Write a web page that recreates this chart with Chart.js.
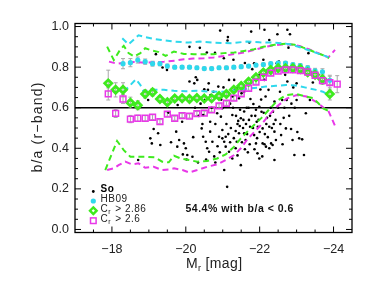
<!DOCTYPE html>
<html>
<head>
<meta charset="utf-8">
<script src="https://cdn.jsdelivr.net/npm/chart.js@4.4.0/dist/chart.umd.min.js"></script>
<style>
  html, body { margin: 0; padding: 0; background: #fff; }
</style>
</head>
<body>
<canvas id="chart" width="374" height="281"></canvas>
<script>
// So galaxies: absolute magnitude and axis ratio
const soMag = [-18.71,-18.98,-19.04,-19.08,-19.13,-19.19,-19.25,-19.31,-19.37,-19.49,-19.53,-19.60,-19.74,-19.77,-19.78,-19.82,-19.90,-19.92,-19.95,-20.00,
  -20.02,-20.04,-20.10,-20.10,-20.18,-20.20,-20.23,-20.27,-20.31,-20.33,-20.38,-20.40,-20.43,-20.45,-20.47,-20.47,-20.50,-20.52,-20.54,-20.55,
  -20.57,-20.58,-20.60,-20.63,-20.66,-20.66,-20.67,-20.70,-20.72,-20.75,-20.77,-20.79,-20.80,-20.85,-20.88,-20.90,-20.93,-20.95,-20.99,-20.99,
  -20.99,-21.03,-21.04,-21.04,-21.08,-21.08,-21.12,-21.13,-21.14,-21.17,-21.17,-21.20,-21.22,-21.26,-21.26,-21.26,-21.29,-21.30,-21.31,-21.33,
  -21.35,-21.35,-21.38,-21.38,-21.40,-21.42,-21.44,-21.44,-21.46,-21.49,-21.49,-21.51,-21.55,-21.58,-21.58,-21.58,-21.60,-21.62,-21.65,-21.68,
  -21.71,-21.72,-21.74,-21.75,-21.77,-21.80,-21.83,-21.85,-21.85,-21.88,-21.90,-21.92,-21.94,-21.95,-21.99,-21.99,-21.99,-22.02,-22.05,-22.08,
  -22.08,-22.10,-22.13,-22.13,-22.13,-22.16,-22.17,-22.20,-22.24,-22.26,-22.26,-22.26,-22.30,-22.31,-22.35,-22.38,-22.40,-22.40,-22.40,-22.44,
  -22.46,-22.48,-22.52,-22.55,-22.58,-22.61,-22.65,-22.69,-22.71,-22.73,-22.75,-22.75,-22.78,-22.82,-22.85,-22.89,-22.91,-22.94,-22.95,-23.00,
  -23.00,-23.02,-23.07,-23.15,-23.20,-23.25,-23.32,-23.36,-23.44,-21.10,-21.15,-21.20,-21.28,-21.36,-21.40,-21.47,-21.52,-21.56,-21.60,-21.63,
  -21.66,-21.70,-21.73,-21.78,-21.82,-21.86,-21.90,-21.93,-21.97,-22.00,-22.04,-22.07,-22.11,-22.14,-22.18,-22.22,-22.28,-22.33,-22.36,-22.43,
  -22.50,-22.56,-22.62,-22.67,-22.80,-22.86,-20.80,-20.86,-20.92,-20.96,-21.02,-20.62,-20.35,-20.25];
const soBA = [0.342,0.638,0.449,0.424,0.495,0.864,0.474,0.416,0.798,0.786,0.576,0.430,0.482,0.408,0.613,0.441,0.531,0.370,0.424,0.400,
  0.345,0.367,0.900,0.729,0.358,0.455,0.720,0.750,0.737,0.330,0.895,0.620,0.498,0.520,0.457,0.564,0.691,0.638,0.432,0.345,
  0.872,0.400,0.688,0.383,0.531,0.482,0.663,0.600,0.432,0.679,0.360,0.870,0.520,0.573,0.704,0.457,0.980,0.556,0.597,0.490,
  0.449,0.844,0.432,0.293,0.457,0.408,0.210,0.931,0.948,0.737,0.383,0.620,0.500,0.655,0.564,0.350,0.836,0.450,0.737,0.688,
  0.485,0.400,0.696,0.432,0.520,0.535,0.474,0.647,0.510,0.548,0.317,0.671,0.500,0.581,0.474,0.679,0.820,0.441,0.600,0.380,
  0.540,0.921,0.506,0.643,0.975,0.790,0.618,0.819,0.465,0.560,0.424,0.531,0.375,0.506,0.762,0.605,0.350,0.690,0.580,0.424,
  0.498,0.836,0.984,0.737,0.420,0.655,0.408,0.550,0.688,0.934,0.506,0.400,0.600,0.424,0.416,0.520,0.630,0.482,0.342,0.441,
  0.819,0.962,0.827,0.679,0.465,0.638,0.550,0.762,0.498,0.638,0.729,0.984,0.896,0.962,0.495,0.441,0.700,0.367,0.600,0.720,
  0.638,0.480,0.449,0.444,0.367,0.573,0.869,0.638,0.724,0.520,0.470,0.430,0.600,0.560,0.365,0.590,0.430,0.540,0.395,0.520,
  0.470,0.600,0.420,0.560,0.500,0.395,0.590,0.450,0.540,0.480,0.640,0.360,0.575,0.470,0.520,0.455,0.560,0.500,0.580,0.540,
  0.600,0.520,0.420,0.600,0.560,0.620,0.330,0.410,0.380,0.640,0.700,0.720,0.560,0.600];

// binned medians
const binMag = [-17.9,-18.1,-18.3,-18.5,-18.7,-18.9,-19.1,-19.3,-19.5,-19.7,-19.9,-20.1,-20.3,-20.5,-20.7,-20.9,
  -21.1,-21.3,-21.5,-21.7,-21.9,-22.1,-22.3,-22.5,-22.7,-22.9,-23.1,-23.3,-23.5,-23.7,-23.9,-24.1];
const cr286 = [0.720,0.688,0.688,0.625,0.612,0.668,0.676,0.643,0.627,0.645,0.647,0.643,0.648,0.645,0.646,0.658,
  0.668,0.688,0.707,0.728,0.750,0.773,0.786,0.795,0.795,0.795,0.791,0.775,0.762,0.740,0.668,null];
const cr286Err = [0.065,0.035,0.035,0.027,0.022,0.020,0.018,0.015,0.013,0.012,0.012,0.011,0.011,0.011,0.011,0.011,
  0.011,0.011,0.011,0.011,0.011,0.011,0.011,0.011,0.011,0.011,0.012,0.013,0.015,0.020,0.030,0];
const cr26 = [0.668,0.572,0.643,0.544,0.548,0.548,0.553,0.531,0.568,0.548,0.561,0.559,0.571,0.573,0.589,0.609,
  0.622,0.647,0.668,0.696,0.726,0.750,0.770,0.781,0.786,0.786,0.783,0.776,0.760,0.733,0.724,0.716];
const cr26Err = [0.030,0.020,0.022,0.018,0.015,0.013,0.012,0.010,0.010,0.010,0.010,0.010,0.010,0.010,0.010,0.010,
  0.010,0.010,0.010,0.010,0.010,0.010,0.010,0.010,0.010,0.010,0.010,0.011,0.012,0.018,0.036,0.042];

const hbMag = [-18.3,-18.5,-18.7,-18.9,-19.1,-19.3,-19.5,-19.7,-19.9,-20.1,-20.3,-20.5,-20.7,-20.9,-21.1,
  -21.3,-21.5,-21.7,-21.9,-22.1,-22.3,-22.5,-22.7,-22.9,-23.1,-23.3,-23.5,-23.7,-23.9];
const hb09 = [0.817,0.822,0.835,0.827,0.817,0.817,0.805,0.800,0.800,0.800,0.797,0.793,0.793,0.797,0.797,
  0.800,0.802,0.805,0.810,0.813,0.817,0.820,0.820,0.812,0.808,0.797,0.782,0.777,0.735];
const hb09Err = [0.025,0.020,0.015,0.013,0.012,0.010,0.010,0.008,0.008,0.008,0.008,0.008,0.008,0.008,0.008,
  0.008,0.008,0.008,0.008,0.008,0.008,0.008,0.008,0.008,0.009,0.010,0.012,0.015,0.020];

// percentile envelopes (dashed)
const hbUpMag = [-18.28,-18.45,-18.72,-18.9,-19.17,-19.45,-19.66,-20.07,-20.38,-20.8,-21.24,-21.65,-22.0,-22.37,-22.6,-22.82,-23.09,-23.36,-23.63,-23.86];
const hbUp = [0.942,0.912,0.957,0.948,0.938,0.931,0.926,0.921,0.926,0.920,0.918,0.926,0.922,0.921,0.918,0.913,0.898,0.881,0.864,0.849];
const hbLoMag = [-18.32,-18.5,-18.65,-18.77,-18.86,-19.1,-19.41,-19.68,-20.0,-20.31,-20.6,-20.9,-21.12,-21.39,-21.65,-21.94,-22.17,-22.44,-22.71,-22.98,-23.25,-23.53,-23.71,-23.88];
const hbLo = [0.679,0.712,0.740,0.712,0.679,0.688,0.688,0.683,0.681,0.683,0.680,0.679,0.679,0.688,0.693,0.699,0.704,0.708,0.712,0.709,0.699,0.688,0.679,0.662];

const c286UpMag = [-17.87,-18.05,-18.22,-18.32,-18.45,-18.6,-18.77,-18.9,-19.1,-19.27,-19.45,-19.68,-19.95,-20.22,-20.49,-20.76,-21.03,-21.31,-21.58,-21.85,-22.1,-22.4,-22.7,-22.95,-23.2,-23.45,-23.7,-23.88];
const c286Up = [0.901,0.835,0.885,0.905,0.869,0.852,0.869,0.893,0.881,0.874,0.855,0.877,0.865,0.864,0.864,0.864,0.869,0.872,0.880,0.888,0.900,0.910,0.915,0.910,0.895,0.877,0.860,0.845];
const c286LoMag = [-17.82,-18.14,-18.32,-18.5,-18.73,-18.95,-19.17,-19.36,-19.54,-19.68,-19.86,-20.09,-20.31,-20.58,-20.85,-21.08,-21.31,-21.49,-21.71,-21.85,-22.05,-22.26,-22.48,-22.71,-22.98,-23.25,-23.45,-23.59,-23.72,-23.9];
const c286Lo = [0.293,0.436,0.391,0.358,0.358,0.358,0.355,0.334,0.331,0.363,0.350,0.342,0.334,0.337,0.350,0.370,0.408,0.449,0.490,0.515,0.550,0.592,0.635,0.662,0.668,0.655,0.647,0.622,0.597,0.580];

const c26UpMag = [-17.92,-18.14,-18.36,-18.6,-18.9,-19.2,-19.41,-19.7,-19.95,-20.2,-20.49,-20.76,-21.03,-21.31,-21.58,-21.85,-22.1,-22.35,-22.6,-22.85,-23.1,-23.35,-23.6,-23.86,-24.04];
const c26Up = [0.827,0.817,0.822,0.825,0.822,0.825,0.827,0.832,0.839,0.842,0.844,0.848,0.855,0.865,0.872,0.885,0.897,0.907,0.912,0.912,0.903,0.887,0.868,0.848,0.885];
const c26LoMag = [-17.87,-18.05,-18.18,-18.36,-18.54,-18.72,-18.9,-19.13,-19.36,-19.54,-19.68,-19.91,-20.09,-20.31,-20.58,-20.85,-21.12,-21.31,-21.49,-21.67,-21.8,-22.01,-22.19,-22.46,-22.73,-23.0,-23.27,-23.54,-23.75,-23.86,-23.95,-24.04];
const c26Lo = [0.293,0.301,0.317,0.334,0.321,0.326,0.304,0.309,0.293,0.296,0.301,0.293,0.281,0.293,0.309,0.321,0.346,0.367,0.400,0.445,0.470,0.510,0.550,0.605,0.645,0.662,0.655,0.628,0.597,0.585,0.548,0.510];

const cutLevel = 0.6;
const note = '54.4% with b/a < 0.6';

const cyan = '#2ED8EC', green = '#3EEA1E', magenta = '#E838E8';
const FONT = '"Liberation Sans", Arial, sans-serif';

function pts(xs, ys) {
  return xs.map((v, i) => ({ x: v, y: ys[i] })).filter(p => p.y !== null);
}

function dashed(xs, ys, color) {
  return {
    data: pts(xs, ys), showLine: true, borderColor: color, borderWidth: 2,
    borderDash: [6, 4], pointRadius: 0, fill: false, order: 5
  };
}

// error bars, the 0.6 line, frame, ticks and all free text
const extras = {
  id: 'extras',
  beforeDatasetsDraw(chart) {
    const { ctx, chartArea: a, scales: { x, y } } = chart;
    ctx.save();
    const py = y.getPixelForValue(cutLevel);
    ctx.strokeStyle = '#000';
    ctx.lineWidth = 1.5;
    ctx.beginPath(); ctx.moveTo(a.left, py); ctx.lineTo(a.right, py); ctx.stroke();

    ctx.strokeStyle = '#a8a8a8';
    ctx.lineWidth = 1;
    const bars = (xs, ys, es) => {
      xs.forEach((v, i) => {
        if (ys[i] === null || !es[i]) return;
        const px = x.getPixelForValue(v);
        const t = y.getPixelForValue(ys[i] + es[i]);
        const b = y.getPixelForValue(ys[i] - es[i]);
        ctx.beginPath();
        ctx.moveTo(px, t); ctx.lineTo(px, b);
        ctx.moveTo(px - 2, t); ctx.lineTo(px + 2, t);
        ctx.moveTo(px - 2, b); ctx.lineTo(px + 2, b);
        ctx.stroke();
      });
    };
    bars(hbMag, hb09, hb09Err);
    bars(binMag, cr286, cr286Err);
    bars(binMag, cr26, cr26Err);
    ctx.restore();
  },
  afterDraw(chart) {
    const { ctx, chartArea: a, scales: { x, y } } = chart;
    ctx.save();
    // frame
    ctx.strokeStyle = '#000';
    ctx.lineWidth = 1.3;
    ctx.strokeRect(a.left, a.top, a.right - a.left, a.bottom - a.top);
    // inward ticks, all four sides
    ctx.lineWidth = 1;
    ctx.beginPath();
    for (let k = 1; k < 15; k++) {
      const v = -24.5 + k * 0.5;
      const px = x.getPixelForValue(v);
      const len = (k % 4 === 1) ? 6 : 3;
      ctx.moveTo(px, a.bottom); ctx.lineTo(px, a.bottom - len);
      ctx.moveTo(px, a.top); ctx.lineTo(px, a.top + len);
    }
    for (let k = 0; k <= 20; k++) {
      const py = y.getPixelForValue(k * 0.05);
      const len = (k % 4 === 0) ? 6 : 3;
      ctx.moveTo(a.left, py); ctx.lineTo(a.left + len, py);
      ctx.moveTo(a.right, py); ctx.lineTo(a.right - len, py);
    }
    ctx.stroke();

    ctx.fillStyle = '#222';
    ctx.textBaseline = 'middle';
    ctx.letterSpacing = '1.2px';
    // y title
    ctx.save();
    ctx.translate(38, 127);
    ctx.rotate(-Math.PI / 2);
    ctx.textAlign = 'center';
    ctx.font = '14px ' + FONT;
    ctx.fillText('b/a (r\u2212band)', 0, 0);
    ctx.restore();
    // x title with subscript
    ctx.textAlign = 'left';
    ctx.letterSpacing = '0.4px';
    let tx = 186;
    ctx.font = '14px ' + FONT;
    ctx.fillText('M', tx, 264.5); tx += ctx.measureText('M').width;
    ctx.font = '9px ' + FONT;
    ctx.fillText('r', tx, 268.5); tx += ctx.measureText('r').width + 2;
    ctx.font = '14px ' + FONT;
    ctx.fillText('[mag]', tx + 2, 264.5);

    // note
    ctx.fillStyle = '#111';
    ctx.font = 'bold 10.5px ' + FONT;
    ctx.letterSpacing = '0.5px';
    ctx.fillText(note, 185.5, 209);

    // legend
    const sx = 93.3, lx = 100.5;
    ctx.fillStyle = '#000';
    ctx.beginPath(); ctx.arc(sx, 191.5, 1.4, 0, Math.PI * 2); ctx.fill();
    ctx.font = 'bold 10px ' + FONT;
    ctx.fillText('So', lx, 189.5);
    ctx.fillStyle = cyan;
    ctx.beginPath(); ctx.arc(sx, 201, 2.6, 0, Math.PI * 2); ctx.fill();
    ctx.fillStyle = '#222';
    ctx.font = '10px ' + FONT;
    ctx.fillText('HB09', lx, 199.5);
    // green diamond (thick open)
    ctx.strokeStyle = green; ctx.lineWidth = 2.4;
    ctx.beginPath();
    ctx.moveTo(sx, 207.4); ctx.lineTo(sx + 3.3, 210.7); ctx.lineTo(sx, 214); ctx.lineTo(sx - 3.3, 210.7); ctx.closePath();
    ctx.stroke();
    // magenta square
    ctx.strokeStyle = magenta; ctx.lineWidth = 1.5;
    ctx.strokeRect(sx - 2.8, 217.9, 5.6, 5.6);
    ctx.fillStyle = '#222';
    const sub = (label, yy) => {
      let px = lx;
      ctx.font = '10px ' + FONT;
      ctx.fillText('C', px, yy); px += ctx.measureText('C').width;
      ctx.font = '7px ' + FONT;
      ctx.fillText('r', px, yy + 2.5); px += ctx.measureText('r').width + 1;
      ctx.font = '10px ' + FONT;
      ctx.fillText(label, px, yy);
    };
    sub(' > 2.86', 209.5);
    sub(' > 2.6', 219.5);
    ctx.restore();
  }
};

new Chart(document.getElementById('chart'), {
  type: 'scatter',
  data: {
    datasets: [
      { label: 'Cr > 2.6', data: pts(binMag, cr26), pointStyle: 'rect', pointRadius: 4.1,
        backgroundColor: 'rgba(0,0,0,0)', borderColor: magenta, borderWidth: 1.5, order: 0 },
      { label: 'Cr > 2.86', data: pts(binMag, cr286), pointStyle: 'rectRot', pointRadius: 3.5,
        backgroundColor: 'rgba(0,0,0,0)', borderColor: green, borderWidth: 2.8, order: 1 },
      { label: 'HB09', data: pts(hbMag, hb09), pointStyle: 'circle', pointRadius: 2.6,
        backgroundColor: cyan, borderWidth: 0, order: 2 },
      dashed(hbUpMag, hbUp, cyan),
      dashed(hbLoMag, hbLo, cyan),
      dashed(c286UpMag, c286Up, green),
      dashed(c286LoMag, c286Lo, green),
      dashed(c26UpMag, c26Up, magenta),
      dashed(c26LoMag, c26Lo, magenta),
      { label: 'So', data: pts(soMag, soBA), pointStyle: 'circle', pointRadius: 1.3,
        backgroundColor: '#000', borderWidth: 0, order: 9 }
    ]
  },
  options: {
    responsive: false,
    animation: false,
    events: [],
    layout: { padding: { left: 0, top: 23.5, right: 22, bottom: 0 } },
    plugins: { legend: { display: false }, tooltip: { enabled: false } },
    scales: {
      x: {
        type: 'linear', reverse: true, min: -24.5, max: -17,
        grid: { display: false, drawTicks: false }, border: { display: false },
        ticks: { stepSize: 2, includeBounds: false, padding: 10, maxRotation: 0, color: '#222',
                 font: { family: FONT, size: 12.5 }, callback: v => '\u2212' + Math.abs(v) },
        afterFit: s => { s.height = 48.5; }
      },
      y: {
        min: -0.015, max: 1.015,
        grid: { display: false, drawTicks: false }, border: { display: false },
        ticks: { stepSize: 0.2, includeBounds: false, padding: 6, color: '#222',
                 font: { family: FONT, size: 12.5 }, callback: v => v.toFixed(1) },
        afterFit: s => { s.width = 75; }
      }
    }
  },
  plugins: [extras]
});
</script>
</body>
</html>
